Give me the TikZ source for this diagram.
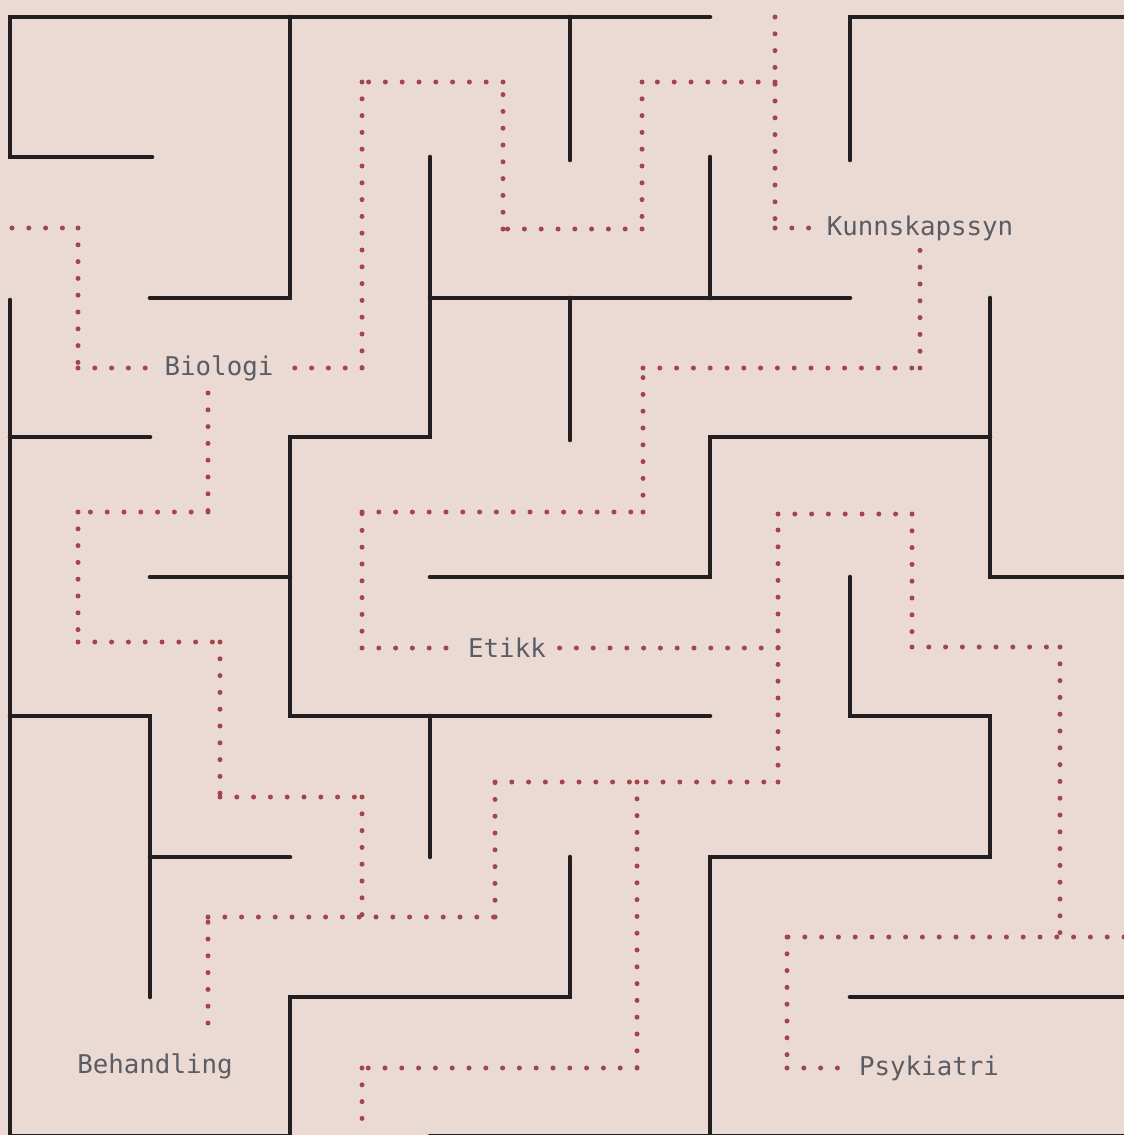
\documentclass[tikz,border=0pt]{standalone}
\usepackage{fontspec}
\setmonofont{DejaVu Sans Mono}
\definecolor{bgc}{HTML}{EBDAD3}
\definecolor{wallc}{HTML}{231F20}
\definecolor{dotc}{HTML}{A3464B}
\definecolor{txtc}{HTML}{5A5C66}
\tikzset{
  wall/.style={draw=wallc, line width=2.3pt, line cap=round},
  trail/.style={draw=dotc, line width=2.5pt, line cap=round, dash pattern=on 0pt off 8.4pt},
  lbl/.style={font=\ttfamily\fontsize{12.9}{15}\selectfont, text=txtc, inner sep=6pt}
}
\begin{document}
\begin{tikzpicture}[x=0.5pt, y=-0.5pt]
        \fill[bgc] (0,0) rectangle (1124,1135);
        \useasboundingbox (0,0) rectangle (1124,1135);
        \clip (0,0) rectangle (1124,1135);

        %stikkord
        \node[lbl] (kunn) at (920,228) {Kunnskapssyn};
        \node[lbl] (bio) at (219,368) {Biologi};
        \node[lbl] (etikk) at (507,648) {Etikk};
        \node[lbl] (beh) at (155,1066) {Behandling};
        \node[lbl] (psyk) at (929,1068) {Psykiatri};

        %ytterkant
        \draw[wall] (710,17) -- (10,17) -- (10,157) -- (152,157);
        \draw[wall] (850,160) -- (850,17) -- (1130,17);
        \draw[wall] (10,300) -- (10,1136) -- (290,1136) -- (290,997)
          -- (570,997) -- (570,857);
        \draw[wall] (430,1136) -- (1130,1136);
        \draw[wall] (710,1136) -- (710,857) -- (990,857) -- (990,716)
          -- (850,716) -- (850,577);

        %vegger inni
        \draw[wall] (290,17) -- (290,298) -- (150,298);
        \draw[wall] (570,17) -- (570,160);
        \draw[wall] (710,157) -- (710,298);
        \draw[wall] (430,157) -- (430,437) -- (290,437) -- (290,716) -- (710,716);
        \draw[wall] (430,298) -- (850,298);
        \draw[wall] (570,298) -- (570,440);
        \draw[wall] (430,577) -- (710,577) -- (710,437) -- (990,437);
        \draw[wall] (990,298) -- (990,577) -- (1130,577);
        \draw[wall] (850,997) -- (1130,997);
        \draw[wall] (430,716) -- (430,857);
        \draw[wall] (10,437) -- (150,437);
        \draw[wall] (10,716) -- (150,716) -- (150,997);
        \draw[wall] (150,577) -- (290,577);
        \draw[wall] (150,857) -- (290,857);

        %stier
        \draw[trail] (775,17) -- (775,228) (775,228) -- (kunn.west);
        \draw[trail] (775,82) -- (642,82) (642,82) -- (642,229)
          (642,229) -- (503,229) (503,229) -- (503,82) (503,82) -- (362,82)
          (362,82) -- (362,368) (362,368) -- (bio.east);
        \draw[trail] (12,228) -- (78,228) (78,228) -- (78,368) (78,368) -- (bio.west);
        \draw[trail] (208,393) -- (208,512) (208,512) -- (78,512)
          (78,512) -- (78,642) (78,642) -- (220,642) (220,642) -- (220,797)
          (220,797) -- (362,797) (362,797) -- (362,917);
        \draw[trail] (208,1023) -- (208,917) (208,917) -- (495,917)
          (495,917) -- (495,782) (495,782) -- (778,782) (778,782) -- (778,514)
          (778,514) -- (912,514) (912,514) -- (912,647) (912,647) -- (1060,647)
          (1060,647) -- (1060,937);
        \draw[trail] (1124,937) -- (787,937) (787,937) -- (787,1068)
          (787,1068) -- (psyk.west);
        \draw[trail] (637,782) -- (637,1068) (637,1068) -- (362,1068)
          (362,1068) -- (362,1135);
        \draw[trail] (778,648) -- (etikk.east);
        \draw[trail] (362,648) -- (etikk.west) (362,648) -- (362,512)
          (362,512) -- (643,512) (643,512) -- (643,368) (643,368) -- (920,368)
          (920,368) -- (920,249);
\end{tikzpicture}
\end{document}
